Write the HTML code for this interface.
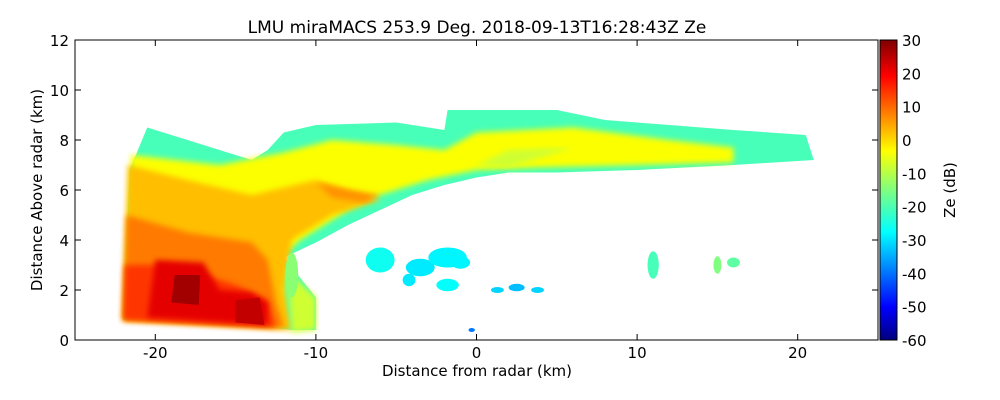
<!DOCTYPE html>
<html><head><meta charset="utf-8"><style>
body{margin:0;background:#fff;}
svg{display:block;font-family:"DejaVu Sans","Liberation Sans",sans-serif;}
</style></head><body>
<svg id="chart" width="1000" height="400" viewBox="0 0 1000 400">
<defs>
<linearGradient id="jet" x1="0" y1="1" x2="0" y2="0">
<stop offset="0" stop-color="#00007f"/><stop offset="0.11" stop-color="#0000ff"/>
<stop offset="0.36" stop-color="#00ffff"/><stop offset="0.5" stop-color="#7fff7f"/>
<stop offset="0.63" stop-color="#ffff00"/><stop offset="0.88" stop-color="#ff0000"/>
<stop offset="1" stop-color="#7f0000"/></linearGradient>
<filter id="blur"><feGaussianBlur stdDeviation="3"/></filter>
</defs>
<text x="477" y="33" text-anchor="middle" font-size="17">LMU miraMACS 253.9 Deg. 2018-09-13T16:28:43Z  Ze</text>
<g id="marks"></g>
<rect x="75" y="40" width="803" height="300" fill="none" stroke="#000"/>
<g id="axes"></g>
<rect x="880" y="40" width="17" height="300" fill="url(#jet)" stroke="#000"/>
<text transform="translate(955,190) rotate(-90)" text-anchor="middle" font-size="15">Ze (dB)</text>
<text x="477" y="376" text-anchor="middle" font-size="15">Distance from radar (km)</text>
<text transform="translate(42,190) rotate(-90)" text-anchor="middle" font-size="15">Distance Above radar  (km)</text>
</svg>
<script>
const xTicks=[-20,-10,0,10,20];
const yTicks=[0,2,4,6,8,10,12];
const cTicks=[30,20,10,0,-10,-20,-30,-40,-50,-60];
const regionValues=[-20,-4,2,8,14,21,27,24,6,-8,-8];
const regionPolys=[
 [[-22,0.8],[-21.6,6.8],[-20.5,8.5],[-16,7.6],[-14,7.2],[-13,7.6],[-12,8.3],[-10,8.6],[-5,8.7],[-2,8.4],[-1.8,9.2],[5,9.2],[8,8.8],[12,8.6],[16,8.4],[20.5,8.2],[21,7.2],[16,7],[10,6.8],[5,6.7],[2,6.7],[0,6.5],[-2,6.2],[-4,5.8],[-6,5.2],[-8,4.6],[-10,3.9],[-11,3.6],[-12,3.3],[-11,2.5],[-10,1.7],[-10,0.4],[-11.5,0.4],[-13,0.5]],
 [[-22,0.8],[-21.5,7.4],[-16,7],[-12,7.5],[-9,8],[-5,7.8],[-2,7.6],[0,8.3],[6,8.5],[12,8],[16,7.7],[16,7.1],[10,7],[4,6.9],[0,6.8],[-3,6.4],[-6,5.8],[-8,5.2],[-11,4],[-12,3.4],[-12,0.5]],
 [[-22,0.8],[-21.7,7],[-18,6.4],[-14,5.8],[-10,6.4],[-6,5.6],[-9,5],[-11.5,4],[-12,2],[-11.5,0.4]],
 [[-22,0.8],[-21.8,5],[-18,4.3],[-14,3.9],[-13,3.2],[-12.5,1.5],[-12,0.5]],
 [[-22,0.8],[-21.9,3],[-19,3],[-15,2.2],[-13,1.6],[-12.5,0.5]],
 [[-20.5,0.9],[-20,3.2],[-17,3.1],[-16,2],[-14,1.9],[-13,1.5],[-13,0.6]],
 [[-19,1.5],[-18.8,2.6],[-17.2,2.6],[-17.3,1.4]],
 [[-15,0.7],[-15,1.6],[-13.5,1.7],[-13.2,0.6]],
 [[-10,6.3],[-8,6],[-6,5.8],[-7,5.5],[-9,5.7]],
 [[0,7],[2,7.6],[6,7.7],[2,6.9]],
 [[-11.5,0.3],[-11.8,2.8],[-10,1.7],[-10,0.4]]
];
const blobValues=[-25,-28,-27,-26,-30,-32,-30,-20,-15,-18,-14,-38,-28,-27];
const blobPos=[[-6,3.2],[-3.5,2.9],[-1.8,3.3],[-1.8,2.2],[1.3,2],[2.5,2.1],[3.8,2],[11,3],[15,3],[16,3.1],[-11.5,2.6],[-0.3,0.4],[-4.2,2.4],[-1,3.1]];
const blobSize=[[0.9,0.5],[0.9,0.35],[1.2,0.4],[0.7,0.25],[0.4,0.12],[0.5,0.15],[0.4,0.12],[0.35,0.55],[0.25,0.35],[0.4,0.2],[0.4,0.9],[0.2,0.08],[0.4,0.25],[0.6,0.25]];

const X=v=>75+(v+25)*803/50, Y=v=>340-v*25, C=v=>340-(v+60)*300/90;
function jet(v){let t=(v+60)/90;t=Math.max(0,Math.min(1,t));
 const f=x=>Math.max(0,Math.min(1,1.5-Math.abs(4*t-x)));
 return `rgb(${Math.round(255*f(3))},${Math.round(255*f(2))},${Math.round(255*f(1))})`;}
const ns="http://www.w3.org/2000/svg",g=document.getElementById('marks'),ax=document.getElementById('axes');
function mk(p,tag,a){const e=document.createElementNS(ns,tag);for(const k in a)e.setAttribute(k,a[k]);p.appendChild(e);return e;}
regionPolys.forEach((p,i)=>{const e=mk(g,'polygon',{points:p.map(q=>X(q[0])+','+Y(q[1])).join(' '),fill:jet(regionValues[i])});
 if(i>0&&i!==6&&i!==7)e.setAttribute('filter','url(#blur)');
 
 });
blobPos.forEach((p,i)=>{const e=mk(g,'ellipse',{cx:X(p[0]),cy:Y(p[1]),rx:blobSize[i][0]*16.06,ry:blobSize[i][1]*25,fill:jet(blobValues[i])});
 
 });
xTicks.forEach(v=>{const x=X(v);mk(ax,'line',{x1:x,x2:x,y1:340,y2:334,stroke:'#000'});mk(ax,'line',{x1:x,x2:x,y1:40,y2:46,stroke:'#000'});
 const t=mk(ax,'text',{x:x,y:358,'text-anchor':'middle','font-size':15});t.textContent=v;
 
 });
yTicks.forEach(v=>{const y=Y(v);mk(ax,'line',{x1:75,x2:81,y1:y,y2:y,stroke:'#000'});mk(ax,'line',{x1:878,x2:872,y1:y,y2:y,stroke:'#000'});
 const t=mk(ax,'text',{x:69,y:y+6,'text-anchor':'end','font-size':15});t.textContent=v;
 
 });
cTicks.forEach(v=>{const y=C(v);mk(ax,'line',{x1:893,x2:897,y1:y,y2:y,stroke:'#000'});
 const t=mk(ax,'text',{x:902,y:y+6,'font-size':15});t.textContent=v;
 
 });
</script>
</body></html>
